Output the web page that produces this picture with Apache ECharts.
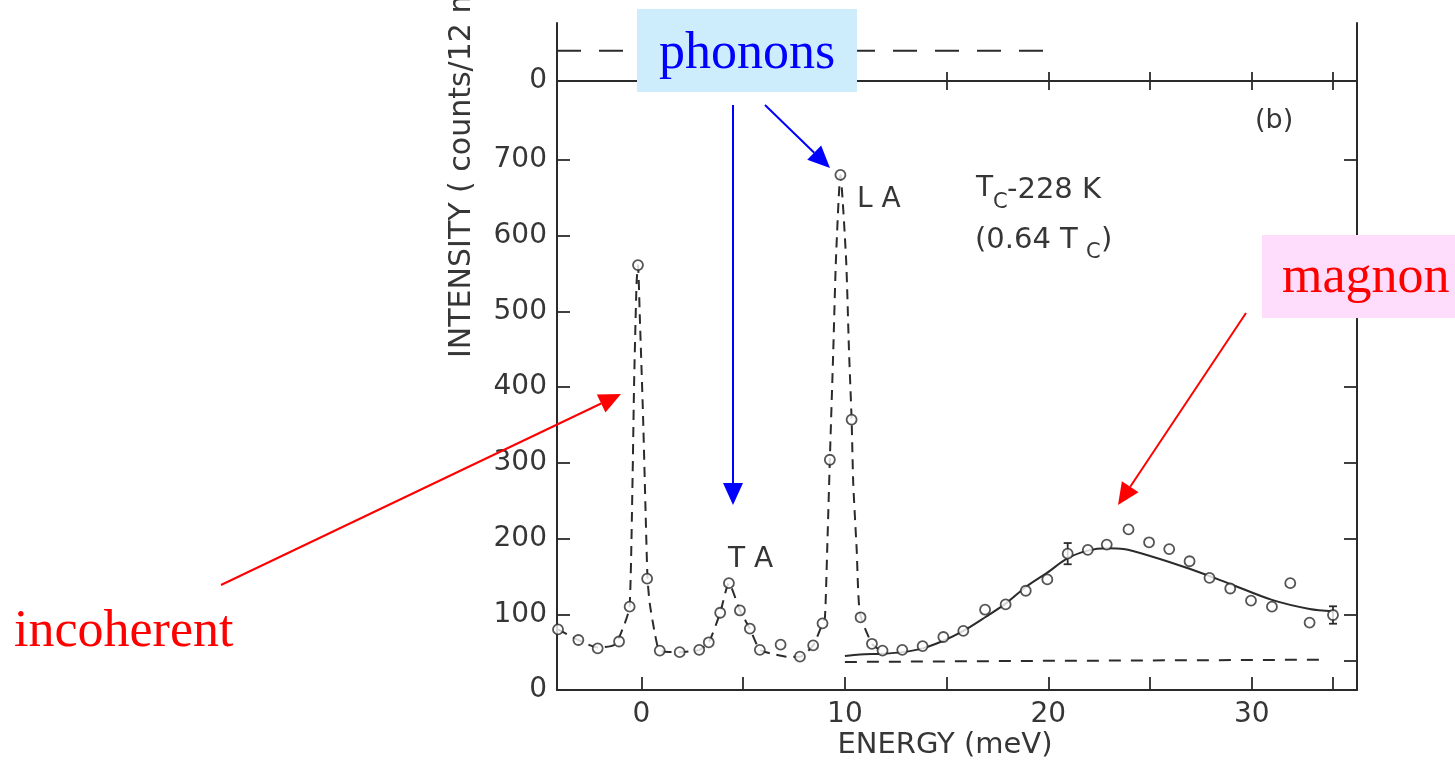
<!DOCTYPE html>
<html>
<head>
<meta charset="utf-8">
<script src="https://cdn.jsdelivr.net/npm/echarts@6/dist/echarts.min.js"></script>
<style>
  html, body {margin:0;padding:0;background:#fff;overflow:hidden;}
  #main {width:1455px;height:761px;}
</style>
</head>
<body>
<div id="main"></div>
<script>
// measured points (energy meV / intensity counts)
const dotE = [-4.1, -3.1, -2.15, -1.1, -0.58, -0.17, 0.28, 0.9, 1.88, 2.84, 3.31, 3.87, 4.3, 4.84, 5.33, 5.82, 6.84, 7.79, 8.44, 8.9,
              9.26, 9.78, 10.33, 10.77, 11.33, 11.85, 12.82, 13.82, 14.84, 15.82, 16.89, 17.9, 18.89, 19.95, 20.95, 21.94, 22.87,
              23.94, 24.95, 25.94, 26.94, 27.92, 28.94, 29.96, 30.99, 31.89, 32.84, 33.99];
const dotI = [80, 66, 55, 64, 110, 561, 147, 52, 50, 53, 63, 102, 141, 105, 81, 53, 60, 44, 59, 88,
              304, 680, 357, 96, 61, 52, 53, 58, 70, 78, 106, 113, 131, 146, 180, 185, 192,
              212, 195, 186, 170, 148, 134, 118, 110, 141, 89, 99];

// dashed fit through the incoherent, TA and LA peaks
const peakFitE = [-4.1, -3.1, -2.15, -1.3, -0.82, -0.58, -0.44, -0.36, -0.24, -0.17, -0.08, 0.08, 0.21, 0.3, 0.41, 0.66, 0.9,
                  1.88, 2.84, 3.31, 3.87, 4.3, 4.84, 5.33, 5.82, 6.4, 7.16, 7.79, 8.44, 8.9, 9.02, 9.13, 9.26, 9.43, 9.56, 9.78,
                  10.06, 10.2, 10.33, 10.41, 10.58, 10.74, 11.33, 11.7];
const peakFitI = [80, 66, 56, 60, 88, 110, 273, 405, 537, 561, 493, 361, 229, 147, 114, 75, 52,
                  50, 53, 63, 102, 141, 105, 81, 53, 48, 44, 44, 59, 88, 96, 185, 304, 449, 568, 680,
                  568, 449, 357, 273, 185, 101, 61, 53];

// solid magnon fit
const magFitE = [10.0, 10.74, 11.85, 12.82, 13.82, 14.84, 15.82, 16.89, 17.9, 18.89, 19.95, 20.95, 21.94, 22.87, 23.69,
                 25.0, 26.94, 28.94, 30.99, 32.84, 33.99];
const magFitI = [45, 47, 48, 50, 55, 65, 78, 96, 114, 136, 155, 174, 184, 187, 186,
                 177, 160, 140, 119, 107, 104];

// background lines
const bgE = [10.0, 20.0, 33.7];
const bgI = [37, 38.5, 40];
const topBgE = [-4.15, 19.93];
const topBgI = [40, 40];

// error bars
const errE = [20.95, 33.99];
const errI = [180, 99];
const errD = [14, 11.5];

const xLabels = [0, 10, 20, 30];
const xTicks = [0, 5, 10, 15, 20, 25, 30, 34];
const yLabels = [0, 100, 200, 300, 400, 500, 600, 700];
const yRightTicks = [38, 100, 200, 300, 400, 500, 600, 700];

const ink = '#2b2b2b';
const labelFont = 'DejaVu Sans';
const textInk = '#363636';

function pairs(a, b) { return a.map((v, i) => [v, b[i]]); }

function arrow(x1, y1, x2, y2, color) {
  const dx = x2 - x1, dy = y2 - y1, len = Math.sqrt(dx * dx + dy * dy);
  const ux = dx / len, uy = dy / len;
  const hl = 22, hw = 10;
  const bx = x2 - ux * hl, by = y2 - uy * hl;
  return [
    {type: 'line', z: 100, shape: {x1: x1, y1: y1, x2: bx, y2: by}, style: {stroke: color, lineWidth: 2}},
    {type: 'polygon', z: 100, shape: {points: [[x2, y2], [bx - uy * hw, by + ux * hw], [bx + uy * hw, by - ux * hw]]},
     style: {fill: color}}
  ];
}

function txt(x, y, s, size, align) {
  return {type: 'text', z: 50, x: x, y: y,
    style: {text: s, fontSize: size, fontFamily: labelFont, fill: textInk,
            textAlign: align || 'left', textVerticalAlign: 'middle'}};
}

let myChart = echarts.init(document.getElementById('main'));

let tickStyle = {color: ink, width: 1.8};
let axLine = {show: true, onZero: false, lineStyle: {color: ink, width: 2}};
let lblStyle = {margin: 10, fontSize: 28, fontFamily: labelFont, color: textInk};

let option = {
  animation: false,
  backgroundColor: '#fff',
  grid: [
    {left: 557, right: 98, top: 81, bottom: 71},
    {left: 557, right: 98, top: 23, height: 58}
  ],
  xAxis: [
    {
      type: 'value', gridIndex: 0, min: -4.15, max: 35.17, axisLine: axLine,
      axisTick: {show: true, inside: true, length: 13, lineStyle: tickStyle, customValues: xTicks},
      axisLabel: Object.assign({}, lblStyle, {customValues: xLabels, margin: 11}),
      splitLine: {show: false}
    },
    {
      type: 'value', gridIndex: 0, position: 'top', min: -4.15, max: 35.17, axisLine: axLine,
      axisTick: {show: true, inside: true, length: 9, lineStyle: tickStyle, customValues: xTicks},
      axisLabel: {show: false},
      splitLine: {show: false}
    },
    {
      type: 'value', gridIndex: 1, min: -4.15, max: 35.17, axisLine: axLine,
      axisTick: {show: true, inside: true, length: 9, lineStyle: tickStyle, customValues: xTicks},
      axisLabel: {show: false},
      splitLine: {show: false}
    }
  ],
  yAxis: [
    {
      type: 'value', gridIndex: 0, min: 0, max: 804, axisLine: axLine,
      axisTick: {show: true, inside: true, length: 13, lineStyle: tickStyle, customValues: yLabels},
      axisLabel: Object.assign({}, lblStyle, {customValues: yLabels}),
      splitLine: {show: false}
    },
    {
      type: 'value', gridIndex: 0, position: 'right', min: 0, max: 804, axisLine: axLine,
      axisTick: {show: true, inside: true, length: 13, lineStyle: tickStyle, customValues: yRightTicks},
      axisLabel: {show: false},
      splitLine: {show: false}
    },
    {
      type: 'value', gridIndex: 1, min: 0, max: 76.6, axisLine: axLine,
      axisTick: {show: false},
      axisLabel: Object.assign({}, lblStyle, {customValues: [0]}),
      splitLine: {show: false}
    },
    {
      type: 'value', gridIndex: 1, position: 'right', min: 0, max: 76.6, axisLine: axLine,
      axisTick: {show: false},
      axisLabel: {show: false},
      splitLine: {show: false}
    }
  ],
  series: [
    {
      type: 'line', xAxisIndex: 0, yAxisIndex: 0, data: pairs(peakFitE, peakFitI),
      showSymbol: false, smooth: 0.2, lineStyle: {color: ink, width: 2, type: [10, 7]}
    },
    {
      type: 'line', xAxisIndex: 0, yAxisIndex: 0, data: pairs(magFitE, magFitI),
      showSymbol: false, smooth: 0.3, lineStyle: {color: ink, width: 2}
    },
    {
      type: 'line', xAxisIndex: 0, yAxisIndex: 0, data: pairs(bgE, bgI),
      showSymbol: false, lineStyle: {color: ink, width: 2, type: [12, 10]}
    },
    {
      type: 'line', xAxisIndex: 2, yAxisIndex: 2, data: pairs(topBgE, topBgI),
      showSymbol: false, lineStyle: {color: ink, width: 2, type: [24, 18]}
    },
    {
      type: 'custom', xAxisIndex: 0, yAxisIndex: 0, z: 3,
      data: errE.map((e, i) => [e, errI[i], errD[i]]),
      renderItem: function (params, api) {
        let x = api.value(0), y = api.value(1), d = api.value(2);
        let t = api.coord([x, y + d]), b = api.coord([x, y - d]);
        let w = 4, st = {stroke: ink, lineWidth: 1.8};
        return {type: 'group', children: [
          {type: 'line', shape: {x1: t[0], y1: t[1], x2: b[0], y2: b[1]}, style: st},
          {type: 'line', shape: {x1: t[0] - w, y1: t[1], x2: t[0] + w, y2: t[1]}, style: st},
          {type: 'line', shape: {x1: b[0] - w, y1: b[1], x2: b[0] + w, y2: b[1]}, style: st}
        ]};
      }
    },
    {
      type: 'scatter', xAxisIndex: 0, yAxisIndex: 0, z: 4, data: pairs(dotE, dotI),
      symbol: 'circle', symbolSize: 10,
      itemStyle: {color: '#fff', borderColor: ink, borderWidth: 1.8}
    }
  ],
  graphic: [
    // axis names
    {type: 'text', z: 50, x: 462, y: 358, rotation: Math.PI / 2,
     style: {text: 'INTENSITY ( counts/12 min)', fontSize: 30, fontFamily: labelFont, fill: textInk,
             textAlign: 'left', textVerticalAlign: 'middle'}},
    txt(945, 745, 'ENERGY (meV)', 29, 'center'),
    // labels inside the plot
    txt(857, 200, 'L A', 28),
    txt(728, 560, 'T A', 28),
    txt(976, 189, 'T', 28),
    txt(993, 203, 'C', 21),
    txt(1007, 190, '-228 K', 29),
    txt(975, 240, '(0.64 T', 29),
    txt(1086, 253, 'C', 21),
    txt(1101, 240, ')', 29),
    txt(1255, 121, '(b)', 27),
    // overlay annotations
    {type: 'rect', z: 90, shape: {x: 637, y: 9, width: 220, height: 83}, style: {fill: '#cdedfc'}},
    {type: 'text', z: 95, x: 747, y: 54,
     style: {text: 'phonons', fontSize: 52, fontFamily: 'Liberation Serif', fill: '#0000ff',
             textAlign: 'center', textVerticalAlign: 'middle'}},
    {type: 'rect', z: 90, shape: {x: 1262, y: 235, width: 193, height: 83}, style: {fill: '#fddcfc'}},
    {type: 'text', z: 95, x: 1282, y: 278,
     style: {text: 'magnon', fontSize: 52, fontFamily: 'Liberation Serif', fill: '#ff0000',
             textAlign: 'left', textVerticalAlign: 'middle'}},
    {type: 'text', z: 95, x: 14, y: 632,
     style: {text: 'incoherent', fontSize: 52, fontFamily: 'Liberation Serif', fill: '#ff0000',
             textAlign: 'left', textVerticalAlign: 'middle'}}
  ].concat(
    arrow(733, 105, 733, 505, '#0000ff'),
    arrow(765, 105, 830, 168, '#0000ff'),
    arrow(221, 585, 621, 394, '#ff0000'),
    arrow(1246, 313, 1118, 505, '#ff0000')
  )
};

myChart.setOption(option);
window.onresize = myChart.resize;
</script>
</body>
</html>
